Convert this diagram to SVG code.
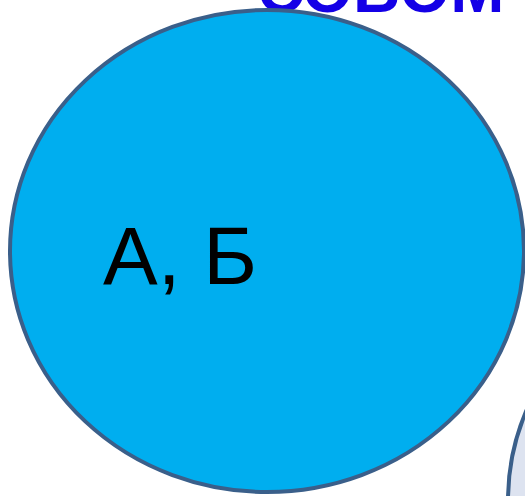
<svg xmlns="http://www.w3.org/2000/svg" width="525" height="496" viewBox="0 0 525 496">
<style>
.set{stroke:#3A5F8A;stroke-width:4}
.title{font-family:"Liberation Sans",Arial,sans-serif;font-weight:bold;font-size:65px;fill:#1400E6}
.lbl{font-family:"Liberation Sans",Arial,sans-serif;font-size:82px;fill:#000}
</style>
<rect width="525" height="496" fill="#fff"/>
<text class="title" x="257" y="12">СОБОМ</text>
<g id="setB">
<ellipse class="set" cx="765" cy="500" rx="257" ry="241" fill="#DDE3F0"/>
</g>
<g id="setA">
<ellipse class="set" cx="267" cy="251" rx="257" ry="241" fill="#00AEEF"/>
<text class="lbl" x="103" y="284">А, Б</text>
</g>
<g id="connectors"/>
</svg>
